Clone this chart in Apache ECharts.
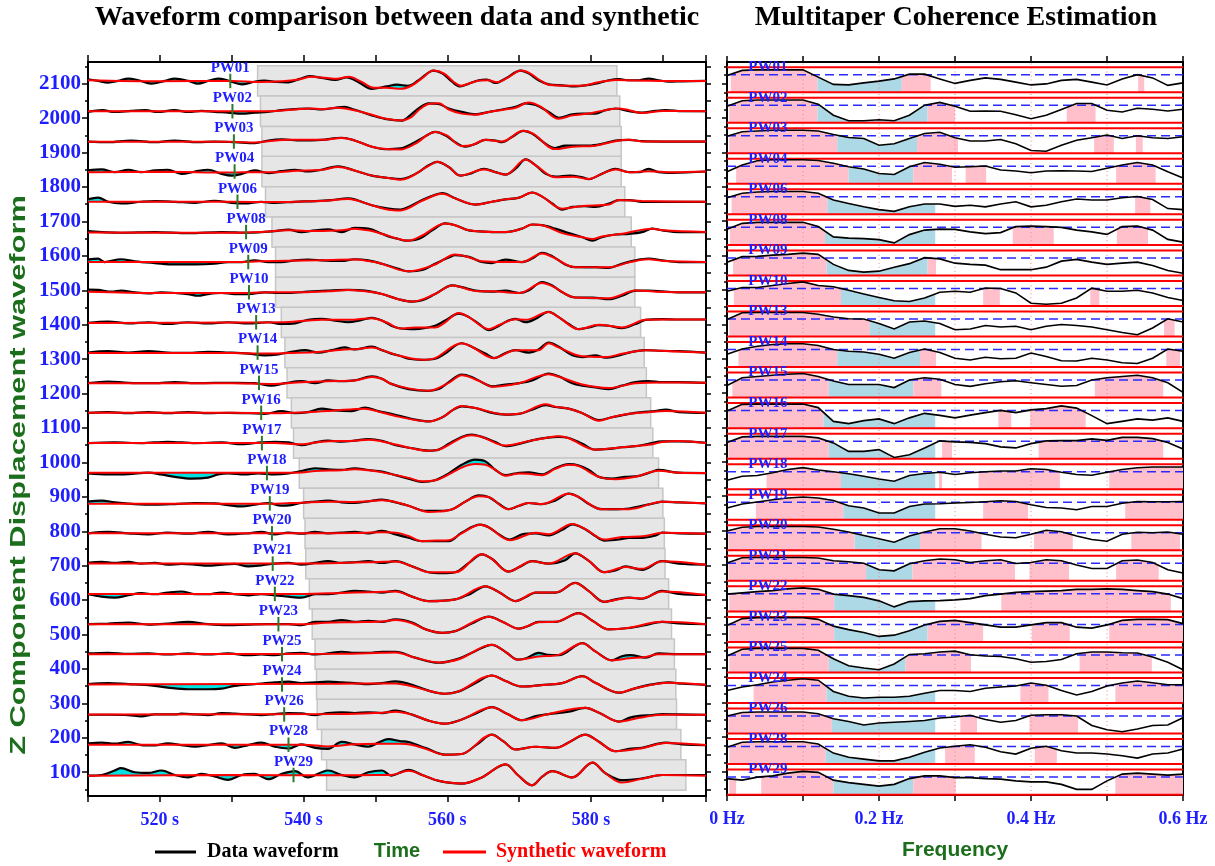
<!DOCTYPE html>
<html><head><meta charset="utf-8">
<script src="https://cdn.jsdelivr.net/npm/echarts@6/dist/echarts.min.js"></script>
<style>html,body{margin:0;padding:0;background:#fff}#c{width:1215px;height:866px}</style>
</head><body><div id="c"></div>
<script>
// ---------------- DATA ----------------
const stations = ['PW01','PW02','PW03','PW04','PW06','PW08','PW09','PW10','PW13','PW14','PW15','PW16','PW17','PW18','PW19','PW20','PW21','PW22','PW23','PW25','PW24','PW26','PW28','PW29'];
const baselines = [2108,2020,1932,1845,1757,1669,1582,1494,1407,1319,1231,1144,1056,969,881,794,706,618,530,443,355,268,180,92];
const pickTimes = [529.8,530.1,530.3,530.4,530.8,532.0,532.3,532.4,533.4,533.6,533.8,534.1,534.2,534.9,535.3,535.6,535.7,536.0,536.5,537.0,537.0,537.3,537.9,538.6];
const windowStarts = [533.6,534.0,534.2,534.2,534.7,535.6,536.1,536.1,536.9,537.4,537.7,538.3,538.6,539.4,540.0,540.2,540.3,540.8,541.2,541.6,541.8,541.9,542.5,543.2];
const windowLength = 50;
const yTickValues = [100,200,300,400,500,600,700,800,900,1000,1100,1200,1300,1400,1500,1600,1700,1800,1900,2000,2100];
const freqs = [0,0.02,0.04,0.06,0.08,0.1,0.12,0.14,0.16,0.18,0.2,0.22,0.24,0.26,0.28,0.3,0.32,0.34,0.36,0.38,0.4,0.42,0.44,0.46,0.48,0.5,0.52,0.54,0.56,0.58,0.6];
const freqGridLines = [0.1,0.2,0.3,0.4,0.5];
const cohThreshold = 0.7;

// waveforms: [time s, offset from baseline]
const d01=[[510,5],[511.4,0],[512.8,-5],[514.2,0],[515.6,7],[517,2],[518.8,-8],[520.7,0],[522.1,7],[524,0],[525.3,-8],[526.7,0],[528.1,7],[529.5,1],[531.4,-10],[533,-3],[534.5,1],[536.3,-3],[537.9,-4],[539.5,6],[540.8,14],[542.5,9],[544.4,3],[546,10],[547.6,-3],[549.5,-23],[551.5,-16],[553,-11],[554.5,-14],[556,2],[558.1,30],[559.3,22],[560.7,-3],[561.8,-16],[563,-8],[564.4,2],[565.5,4],[566.7,-6],[568.1,7],[570.2,30],[571.3,22],[572.7,2],[574.1,-10],[576,-13],[577.8,-16],[579.2,-13],[580.6,-8],[582.5,2],[583.9,5],[585.3,2],[586.7,2],[588,7],[589.4,2],[590.8,-2],[592.7,-1],[596,0]];
const s01=[[510,2],[520,-1],[530,0],[534,-3],[537,-1],[539.5,5],[541,12],[543,9],[544.6,6],[546.3,12],[548,-2],[549.8,-20],[551.5,-20],[553.5,-23],[555,-14],[556.5,8],[558.1,30],[559.5,22],[560.9,-3],[561.9,-14],[563.2,-6],[564.6,1],[565.7,2],[566.9,-4],[568.3,8],[570.3,30],[571.5,22],[572.9,2],[574.3,-12],[577,-14],[579,-13],[581,-4],[583.5,3],[586,1],[590,0],[596,0]];
const d02=[[510,-2],[512,3],[513.7,-2],[516,1],[518,3],[519.7,-2],[522,3],[524,-2],[525.8,1],[527.6,-2],[529.5,-4],[531.4,-7],[533.2,-4],[535,-2],[537,3],[538.8,6],[540.6,8],[542.5,5],[544.4,10],[545.7,13],[547,5],[549.5,-12],[551.3,-22],[553.7,-27],[555.1,-7],[556,8],[557.4,23],[558.8,21],[560.2,8],[562,-2],[563.9,-9],[565.8,-2],[567.6,5],[569.5,13],[570.9,23],[572.3,18],[574.1,-2],[575.5,-19],[577.4,-9],[578.8,-7],[580.6,-7],[582,3],[583.4,8],[585.3,0],[587.1,-4],[589,1],[590.4,3],[592.7,0],[596,0]];
const s02=[[510,0],[530,0],[535,0],[538.8,5],[541,8],[542.5,6],[544.6,10],[547,3],[549.5,-10],[551.5,-22],[553.5,-27],[555,-17],[556,3],[557.4,21],[558.8,23],[560.2,5],[562,-7],[563.9,-10],[565.8,-2],[568,5],[569.5,10],[571.3,25],[573,13],[575.5,-22],[577.4,-12],[579.5,-7],[581.5,1],[583.8,8],[585.3,3],[587.1,-5],[590,1],[596,0]];
const d03=[[510,0],[512.8,-2],[516,3],[519.3,-2],[522,3],[525.3,-2],[527.6,0],[530.4,-2],[533.2,-5],[535.1,3],[537,6],[539.7,3],[542.5,5],[545.3,11],[547.1,3],[549.5,-15],[551.3,-22],[553.5,-20],[555.5,-2],[556.9,15],[558.3,28],[559.7,18],[561.1,-2],[562.5,-15],[563.9,-7],[565.3,5],[566.7,3],[567.6,-2],[569,13],[570.6,31],[571.8,23],[573.7,-7],[575,-19],[576.4,-12],[577.8,-12],[579.7,-12],[581.5,-7],[583.4,3],[585.3,5],[587.1,1],[590,0],[596,0]];
const s03=[[510,-1],[530,-1],[533.2,-3],[535.1,1],[538,5],[542.5,5],[545.3,10],[547.1,3],[549.5,-15],[551.5,-22],[553.5,-23],[555.5,-7],[558.3,28],[560,17],[562,-13],[563.5,-10],[565.3,5],[567.6,0],[570.6,31],[572,22],[575,-22],[577.4,-15],[580.6,-12],[583.4,1],[585.3,5],[587.5,0],[596,0]];
const d04=[[510,3],[511.9,6],[513.7,-2],[515.6,5],[517.4,-2],[519.3,3],[521.1,5],[523,-7],[524.9,0],[526.7,5],[528.6,-7],[530,-12],[531.4,-7],[533.2,3],[535.1,-5],[536.9,1],[538.8,5],[540.6,0],[542.5,5],[544.8,15],[547.1,3],[549.5,-12],[551.8,-19],[553.5,-22],[554.6,-17],[556,-2],[557.4,18],[558.6,28],[560.2,13],[561.8,-12],[563.4,-5],[565.1,8],[566.7,-2],[568.1,-9],[569.5,8],[570.9,35],[572.3,18],[573.7,-7],[575.1,-15],[577,-12],[578.8,-17],[579.7,-22],[581.5,-7],[583.4,8],[585.3,-2],[586.7,-2],[588,8],[589.4,-2],[591.3,-4],[596,0]];
const s04=[[510,-2],[520,-1],[530,-3],[533,-2],[536,-2],[539,2],[542.5,5],[544.8,13],[547.1,3],[549.5,-12],[551.8,-19],[553.5,-24],[557.4,16],[558.6,28],[560.2,13],[561.8,-12],[565.1,6],[568.1,-9],[570.9,35],[572.3,18],[575.1,-17],[577.5,-15],[579.7,-22],[581.5,-7],[583.4,6],[585.3,-2],[588,1],[591.3,-2],[596,0]];
const d06=[[510,7],[511.4,12],[512.8,0],[514.6,-5],[517.4,0],[519.3,2],[522.1,0],[524.9,-3],[527.6,3],[530,-3],[531.8,-5],[534.1,0],[536,-3],[538.8,0],[541.6,2],[543.9,5],[546.2,10],[547.1,7],[549.5,-10],[551.8,-20],[553.5,-23],[554.6,-15],[556.5,5],[558.3,20],[559.3,25],[561.1,10],[563,-5],[563.9,-8],[566.2,0],[568.1,7],[570,12],[571.8,27],[573.2,15],[574.6,-5],[576,-23],[577.4,-15],[579.2,-13],[580.6,-15],[582.5,-5],[583.9,5],[585.3,5],[587.1,0],[590,0],[596,0]];
const s06=[[510,0],[530,0],[536,-1],[540,1],[543,3],[546.2,8],[549.5,-10],[551.8,-23],[553.5,-25],[556.5,3],[559.3,23],[561.1,10],[563.9,-8],[566.2,0],[568.1,7],[570,12],[571.8,27],[573.2,15],[576,-20],[578.8,-12],[582.5,-8],[583.9,5],[587.1,2],[596,0]];
const d08=[[510,3],[514.6,-2],[519.3,0],[524,-3],[528.6,0],[532.3,-2],[534.1,0],[536,3],[537.9,7],[539.7,0],[541.6,5],[543.4,8],[545.3,0],[547.1,12],[549,10],[550.9,-5],[552.2,-15],[553.2,-20],[554.2,-25],[555.5,-23],[556.5,-15],[557.9,5],[559.7,25],[561.1,20],[563,5],[564.4,2],[566.7,0],[568.1,0],[570.4,10],[571.8,22],[573.2,20],[575,10],[576.9,-3],[578.8,-15],[580.2,-25],[581.5,-15],[583.4,-7],[585.3,-5],[587.1,0],[588.5,10],[589.9,5],[592.2,0],[596,0]];
const s08=[[510,-1],[530,-2],[534,0],[537.9,5],[541.6,3],[545.3,5],[547.1,10],[549,5],[550.9,-5],[553.2,-20],[554.6,-25],[556.5,-10],[559.7,25],[561.1,20],[563,5],[566.7,0],[568.1,0],[570.4,10],[571.8,22],[573.2,20],[576,-3],[578.8,-15],[580.2,-20],[581.5,-13],[584.3,-5],[588.5,10],[590,5],[596,0]];
const d09=[[510,7],[511.4,10],[512.3,0],[514.6,8],[516.5,2],[519.3,-3],[522.1,-7],[524.9,-7],[527.6,-5],[529.5,0],[531.4,0],[533.2,5],[535.1,0],[536.9,0],[538.8,5],[540.6,7],[542.5,5],[545.3,3],[547.1,8],[549,5],[550.9,-5],[553.2,-20],[554.6,-27],[556.5,-23],[558.3,-5],[560.2,13],[561.1,20],[563,15],[564.8,0],[566.2,-3],[568.1,7],[570.4,0],[571.8,10],[573.2,27],[574.6,17],[576.4,-7],[577.8,-15],[580.6,-15],[582.5,-17],[584.3,-5],[586.2,5],[588,10],[589.9,5],[592.2,0],[596,0]];
const s09=[[510,0],[530,0],[534,2],[538,4],[542,5],[547.1,7],[549,3],[550.9,-5],[553.2,-22],[554.6,-27],[558.3,-7],[561.1,22],[563,14],[564.8,2],[568.1,0],[570.4,0],[573.2,25],[574.6,15],[577.8,-15],[582.5,-15],[585.5,0],[588,8],[590,3],[596,0]];
const d10=[[510,8],[511.4,7],[513.3,2],[514.6,5],[516.5,0],[518.4,-3],[520.2,0],[522.1,-2],[523.9,-5],[525.3,-10],[526.7,-5],[528.6,-2],[530.4,-5],[532.3,-5],[534.6,0],[536.5,-2],[537.9,-2],[540.6,2],[543.4,5],[546.2,7],[548.5,5],[550.9,-5],[553.2,-20],[555.1,-27],[556.5,-23],[558.3,-5],[560.7,20],[562,15],[563.9,5],[566.2,2],[568.1,5],[570,-2],[571.3,5],[573.2,30],[574.6,20],[576,0],[577.8,-15],[580.2,-15],[582.5,-20],[584.3,-10],[586.2,5],[588,5],[589.9,3],[592.2,0],[596,0]];
const s10=[[510,2],[520,-2],[530,-2],[536,0],[540,0],[543.4,3],[546.2,7],[548.5,3],[550.9,-5],[553.2,-20],[555.1,-27],[558.3,-5],[560.7,20],[563.9,4],[566.2,3],[570,-2],[573.2,27],[574.6,18],[577.8,-15],[582.5,-17],[586.2,5],[589,2],[596,0]];
const d13=[[510,-2],[512.8,2],[515.6,-3],[518.4,0],[521.1,-5],[523.9,0],[526.7,-3],[529.5,0],[532.3,-3],[535.1,0],[536.9,-5],[538.8,-3],[540.6,7],[542.5,10],[544.4,5],[546.2,0],[548.1,7],[549.5,13],[550.9,5],[552.2,-10],[553.5,-18],[555.5,-20],[558.3,-10],[559.7,5],[561.6,25],[563,15],[564.4,-5],[565.8,-23],[567.2,-10],[568.5,5],[569.5,10],[570.9,0],[572.3,10],[574.1,30],[575.5,15],[576.9,-5],[578.3,-20],[579.7,-15],[581.1,-8],[582.5,-10],[584.3,-17],[586.2,-5],[587.6,7],[590,9],[592.2,8],[596,8]];
const s13=[[510,-2],[530,-1],[536.9,0],[540.6,5],[542.5,7],[546.2,7],[549.5,12],[551.5,0],[553.5,-18],[555.5,-15],[558.3,-15],[559.7,0],[561.6,27],[563,15],[565.8,-20],[567.2,-8],[569.5,9],[570.9,7],[574.1,30],[575.5,15],[578.3,-20],[581.1,-7],[584.3,-15],[587.6,7],[590,8],[596,8]];
const d14=[[510,0],[512.8,4],[515.6,0],[518.4,4],[521.1,0],[523.9,-1],[526.7,2],[529.5,0],[532.3,-3],[534.6,-8],[536.5,-5],[538.3,2],[540.2,7],[542,0],[543.9,7],[545.7,15],[547.1,9],[549.5,17],[550.9,7],[552.2,-3],[553.5,-10],[554.6,-18],[556.5,-21],[558.3,-18],[559.7,-3],[562,27],[563.4,17],[565.3,-3],[566.5,-16],[568.1,-1],[569.5,7],[571.3,0],[572.7,9],[574.1,29],[575.5,17],[577.4,-8],[578.8,-13],[580.6,-8],[582,-15],[583.9,-8],[585.7,2],[587.6,7],[589.9,5],[592.2,4],[596,0]];
const s14=[[510,-1],[530,-1],[534.6,-3],[538,-1],[542,2],[545.7,9],[547.5,10],[549.5,15],[551.5,3],[553.5,-10],[556.5,-21],[558.3,-16],[562,27],[563.4,17],[566.5,-16],[569.5,7],[572.7,7],[574.1,27],[575.5,15],[578.8,-11],[582,-13],[584.5,-3],[587.6,7],[592,3],[596,0]];
const d15=[[510,-1],[512.8,4],[515.6,0],[519.3,-1],[522.1,2],[524.9,-1],[527.6,0],[530.4,0],[533.2,-1],[535.5,-8],[537.4,-1],[539.7,5],[541.6,-1],[543.4,7],[545.3,5],[547.1,7],[549.5,19],[550.9,12],[552.2,-3],[554.6,-18],[557.4,-23],[558.8,-18],[560.2,2],[562,24],[563.4,17],[564.8,2],[566.2,-10],[568.1,-5],[570,-1],[571.8,7],[574.1,27],[575.5,19],[577.4,-1],[578.8,-8],[580.6,-13],[582.5,-18],[584.3,-8],[586.2,2],[588,5],[589.9,2],[592.2,2],[596,0]];
const s15=[[510,-1],[530,-1],[535.5,-3],[539.7,2],[543.4,5],[547.1,7],[549.5,17],[550.9,12],[552.2,-3],[554.6,-16],[557.4,-23],[560.2,0],[562,22],[564.8,2],[566.2,-11],[570,-1],[574.1,25],[575.5,18],[578.8,-5],[582.5,-15],[586.2,-1],[589.9,1],[596,0]];
const d16=[[510,0],[512.8,2],[515.6,-1],[518.4,2],[521.1,-1],[523.9,2],[526.7,-1],[529.5,0],[532.3,-1],[534.6,-3],[536.9,5],[538.8,-1],[540.6,2],[542.5,12],[544.4,7],[546.7,5],[548.5,15],[550.4,5],[552.2,-3],[553.2,-8],[555.1,-18],[557.4,-25],[559.3,-13],[560.7,7],[562,19],[563.9,14],[565.8,2],[568.1,-5],[570,-3],[571.8,9],[573.7,22],[575,17],[576.9,12],[578.8,-1],[581.1,-21],[582.9,-13],[585.3,-3],[587.1,2],[588.9,5],[590.4,9],[592.2,2],[596,0]];
const s16=[[510,0],[530,0],[536,-1],[540.6,2],[544,6],[548.5,12],[550.4,4],[553.2,-11],[557.4,-25],[559.3,-13],[562,20],[563.9,14],[568.1,-5],[570,-3],[573.7,25],[575,18],[576.9,12],[578.8,-1],[581.1,-23],[582.9,-13],[585.3,-3],[588,2],[590.4,5],[596,0]];
const d17=[[510,0],[513.7,2],[517.4,0],[521.1,4],[524.9,0],[528.6,2],[531.4,-3],[534.1,2],[536,4],[537.9,2],[539.7,-6],[541.6,2],[543.4,7],[545.3,4],[547.1,7],[549,12],[550.9,7],[553,-7],[555.1,-15],[557.4,-22],[558.8,-19],[560.2,-2],[562,18],[563.4,25],[564.8,18],[566.7,3],[568.1,-9],[570,-2],[571.8,8],[573.7,15],[575.5,18],[576.9,15],[578.8,-2],[580.6,-19],[582.5,-17],[584.3,-12],[586.2,-9],[588,-2],[589.9,5],[592.2,5],[596,1]];
const s17=[[510,0],[536,0],[539.7,-3],[542.5,4],[547.1,7],[549,10],[550.9,5],[553,-5],[557.4,-22],[558.8,-19],[562,16],[563.4,23],[564.8,18],[568.1,-7],[571.8,8],[573.7,15],[575.5,20],[576.9,14],[580.6,-19],[584.3,-12],[588,-5],[589.9,3],[592.2,6],[596,0]];
const d18=[[510,-1],[512.8,-4],[515.6,-3],[518.4,1],[520.2,-4],[522.1,-11],[524.4,-16],[526.7,-13],[528.1,-4],[529.5,-1],[531.8,-4],[533.7,-1],[536,-4],[537.9,-1],[539.7,6],[541.6,14],[543.4,11],[545.3,9],[547.1,14],[549,9],[550.9,4],[552.8,-6],[554.6,-16],[556.5,-26],[558.3,-21],[560.2,-1],[562,24],[563.9,39],[565.3,34],[566.7,9],[568.1,-6],[570,1],[571.3,2],[573.2,-4],[575,14],[576.9,26],[578.3,22],[579.7,9],[581.1,-11],[582.9,-16],[584.8,-11],[586.7,-8],[588.5,4],[589.4,9],[592.2,1],[596,0]];
const s18=[[510,1],[530,1],[536,1],[539.7,2],[541.6,6],[545.3,8],[547.1,11],[549,8],[551,2],[554.6,-14],[556.5,-24],[558.3,-21],[560.2,-4],[562,16],[563.9,26],[565.3,24],[566.7,9],[568.1,-8],[570,-1],[571.3,-2],[573.2,-6],[575,12],[576.9,24],[578.3,20],[581.1,-11],[583.4,-18],[586.2,-11],[589.4,7],[592.2,1],[596,0]];
const d19=[[510,5],[511.9,8],[513.7,3],[516.5,-2],[519.3,-4],[522.1,-2],[524.9,1],[527.6,0],[529.5,-5],[531.4,-9],[533.2,-4],[535.1,1],[536.9,-7],[538.3,-5],[539.7,1],[541.6,5],[543.4,8],[545.3,3],[547.1,1],[549,6],[550.9,11],[552.8,3],[554.6,-7],[557,-22],[558.8,-22],[560.7,-17],[562.5,5],[564.4,23],[565.8,18],[567.2,-2],[568.5,-17],[570,-7],[571.3,1],[573.2,-2],[575,8],[576.9,28],[578.3,18],[579.7,-2],[581.5,-17],[583.4,-17],[585.3,-15],[587.1,-7],[589,1],[589.9,5],[592.2,3],[596,0]];
const s19=[[510,-1],[530,-1],[536,-1],[539.7,2],[543.4,5],[547.1,4],[549,6],[550.9,9],[552.8,4],[554.6,-7],[557.4,-25],[558.8,-24],[560.7,-17],[564.4,21],[565.8,18],[568.5,-17],[571.3,1],[573.2,-2],[576.9,28],[578.3,18],[581.5,-17],[585.3,-17],[589.9,5],[592.2,3],[596,0]];
const d20=[[510,0],[512.8,4],[515.6,0],[518.4,-3],[521.1,2],[523.9,-1],[526.7,4],[529.5,-3],[532.3,0],[534.1,4],[536,-3],[537.9,2],[539.7,-1],[541.6,4],[543.4,0],[545.3,2],[547.1,4],[549,0],[550.9,7],[552.8,-3],[554.6,-13],[556.5,-23],[558.3,-23],[560.2,-23],[562,2],[564.6,25],[565.8,17],[567.2,-3],[568.7,-18],[570.4,-3],[572.3,0],[574.1,-6],[576,10],[577.4,26],[579.2,12],[580.6,-8],[581.9,-21],[583.9,-18],[585.3,-13],[587.1,-13],[589,-6],[589.9,2],[592.2,0],[596,-1]];
const s20=[[510,0],[540,0],[547,1],[550.9,3],[552.8,2],[554.6,-8],[556.5,-23],[558.5,-21],[560.2,-20],[562,0],[564.6,25],[565.8,17],[568.7,-20],[572.3,2],[574.1,-3],[577.4,27],[579.2,12],[581.9,-18],[584.3,-11],[587.5,-8],[589.9,2],[596,-1]];
const d21=[[510,2],[511.9,5],[513.7,2],[515.6,5],[517.4,0],[519.3,2],[521.1,-3],[523,-1],[524.9,-3],[526.7,-6],[528.6,-3],[530.4,-1],[532.3,-8],[534.1,-5],[536,0],[537.9,2],[539.7,-3],[541.6,2],[543.4,7],[545.3,2],[547.1,4],[549,7],[550.9,2],[552.8,7],[555.1,-8],[557.4,-25],[559.3,-28],[561.1,-25],[563,2],[564.8,27],[566.2,14],[568.5,-23],[570.2,-8],[571.8,7],[574.1,0],[576.4,10],[577.8,30],[579.7,8],[581.8,-25],[583.4,-20],[584.8,-8],[587.1,-18],[589.9,7],[592.2,0],[596,-3]];
const s21=[[510,0],[540,0],[545,2],[549,4],[552.8,6],[555.1,-8],[557.4,-25],[561.1,-25],[564.8,27],[566.2,14],[568.5,-23],[571.8,7],[574.1,0],[577.8,30],[579.7,8],[581.8,-25],[584.8,-10],[587.1,-15],[589.9,7],[596,-3]];
const d22=[[510,-1],[511.9,-8],[513.7,-11],[515.6,-4],[517.4,2],[519.3,-1],[521.1,4],[523,7],[524.9,-1],[526.7,-1],[528.6,4],[530.4,-1],[532.3,-4],[534.1,-1],[536,-4],[537.9,-8],[539.7,-11],[541.6,-1],[543.4,-1],[545.3,4],[547.1,9],[549,7],[550.9,4],[552.8,9],[555.1,-8],[557.4,-21],[561.1,-16],[563.2,0],[565.3,22],[567.2,5],[569.5,-21],[571,-8],[572.3,4],[575.1,4],[577.8,32],[579.7,8],[581.8,-23],[583.4,-16],[585.3,-11],[587.1,-14],[589.9,9],[592.2,0],[596,-3]];
const s22=[[510,0],[540,0],[545.3,3],[549,5],[552.8,7],[555.1,-8],[557.4,-21],[561.1,-16],[565.3,22],[567.2,5],[569.5,-21],[572.3,4],[575.1,4],[577.8,32],[579.7,8],[581.8,-23],[585.3,-11],[587.1,-13],[589.9,7],[596,-3]];
const d23=[[510,0],[512.8,2],[515.6,5],[518.4,-1],[521.1,2],[523.9,7],[526.7,0],[529.5,-3],[532.3,-1],[535.1,0],[537.9,0],[539.7,-3],[541.6,7],[543.4,7],[545.3,12],[547.1,7],[549,10],[550.9,7],[552.8,14],[555.1,5],[557,-15],[559.3,-25],[561.1,-20],[563.4,2],[565.8,22],[567.6,8],[570,-13],[571.3,-5],[572.7,7],[575.1,7],[578.3,32],[580.2,10],[582.5,-15],[585.3,-11],[587.5,-3],[589.9,7],[592.2,2],[596,0]];
const s23=[[510,0],[540,0],[543,4],[547.1,6],[550.9,8],[552.8,12],[555.1,3],[557,-15],[559.3,-25],[561.1,-20],[565.8,22],[567.6,8],[570,-13],[572.7,6],[575.1,7],[578.3,32],[580.2,10],[582.5,-15],[585.3,-10],[589.9,7],[596,0]];
const d25=[[510,2],[512.8,4],[515.6,1],[518.4,2],[521.1,-1],[523.9,2],[526.7,-1],[529.5,2],[532.3,-3],[534.1,-1],[536,-3],[537.9,2],[539.7,4],[541.6,-1],[543.4,2],[545.3,7],[547.1,4],[549,4],[550.9,7],[552.8,7],[555.5,-10],[558.8,-25],[561.6,-13],[563.8,8],[566.2,27],[568.2,5],[569.8,-16],[571,-12],[572.7,4],[574,-2],[575.5,-3],[578.8,32],[580.6,8],[582.9,-18],[584.3,-6],[585.5,-3],[587.6,-10],[589.4,2],[592.2,0],[596,0]];
const s25=[[510,0],[545,1],[550.9,4],[552.8,5],[555.5,-10],[558.8,-24],[561.6,-15],[566.2,27],[568.2,5],[569.8,-16],[572.7,-7],[575.5,-2],[578.8,32],[580.6,8],[582.9,-18],[585.3,-12],[587.6,-8],[589.4,0],[596,0]];
const d24=[[510,1],[512.8,4],[515.6,1],[518.4,-2],[521.1,-9],[523.9,-14],[526.7,-14],[528.6,-12],[530.4,-4],[533.2,1],[536,6],[537.9,8],[539.7,4],[541.6,6],[543.4,8],[545.3,6],[547.1,4],[549,1],[550.9,4],[552.8,9],[554.6,2],[557.4,-18],[559.7,-27],[561.6,-20],[564,5],[566.2,26],[568.1,10],[570.4,-6],[573,-2],[576,4],[578.8,24],[580.6,5],[583.9,-24],[586,-12],[588.5,0],[590.8,6],[592.7,2],[596,-1]];
const s24=[[510,0],[545,2],[550.9,3],[552.8,3],[554.6,-3],[557.4,-18],[559.7,-27],[561.6,-20],[566.2,26],[568.1,10],[570.4,-6],[573,-2],[576,4],[578.8,24],[580.6,5],[583.9,-24],[586,-12],[590.8,5],[596,-1]];
const d26=[[510,-1],[512.8,-1],[515.6,-2],[517.4,-6],[519.3,0],[522.1,0],[523,2],[524.9,0],[526.7,-2],[528.6,4],[530.4,2],[532.3,0],[534.1,-2],[536,1],[537.9,4],[539.7,3],[541.6,-2],[543.4,4],[545.3,6],[547.1,4],[549,6],[550.9,4],[552.8,11],[555,0],[557.4,-18],[559.7,-27],[562,-15],[564.2,5],[566.2,21],[568.3,2],[570.4,-17],[572.3,-5],[574.1,1],[576.9,8],[579.2,19],[581.1,5],[583.9,-21],[585.3,-10],[586.7,-4],[588.5,-2],[589.9,1],[592.2,0],[596,-1]];
const s26=[[510,0],[545,1],[550.9,5],[552.8,8],[555,0],[557.4,-18],[559.7,-27],[562,-15],[566.2,21],[568.3,2],[570.4,-17],[574.1,1],[579.2,19],[581.1,5],[583.9,-21],[586.7,-10],[589.9,-1],[596,-1]];
const d28=[[510,4],[511.9,6],[513.7,3],[515.6,8],[517.4,-1],[519.3,-2],[521.1,4],[523,-1],[524.9,-6],[526.7,-1],[528.6,4],[530.4,-9],[532.3,-1],[534.1,6],[536,-6],[537.9,-11],[539.7,1],[541.6,-9],[543.4,-12],[545.3,8],[547.1,1],[549,-6],[550.4,6],[551.8,16],[553.5,10],[554.6,8],[557,-10],[559.7,-29],[562,-27],[564.2,2],[566.2,29],[567.8,10],[569.5,-14],[572.3,-6],[575.1,-9],[577,8],[579.2,29],[581,10],[583.4,-19],[585.3,-12],[587.1,-9],[590.4,6],[592.7,1],[596,-1]];
const s28=[[510,0],[540,0],[543.4,-5],[547.1,1],[550.4,3],[553.5,3],[555,0],[557,-12],[559.7,-29],[562,-27],[566.2,29],[567.8,10],[569.5,-14],[572.3,-6],[575.1,-9],[579.2,29],[581,10],[583.4,-19],[587.1,-10],[590.4,5],[596,-1]];
const d29=[[510,-2],[511.9,0],[513.7,13],[514.6,20],[516.5,8],[518.4,6],[520.2,13],[522.1,0],[523.9,-7],[525.8,3],[527.6,-4],[529.5,-14],[531.4,0],[533.2,3],[535.1,-12],[536.9,3],[538.8,11],[540.6,-7],[542.5,8],[543.4,13],[545.3,0],[547.1,-7],[549,8],[550.9,13],[552.2,-2],[553.2,5],[554.6,15],[556.5,0],[558.8,-17],[562,-25],[564.8,-7],[568.1,31],[569.8,0],[571.8,-30],[573.2,-5],[574.6,11],[577.4,-7],[580.2,36],[582,5],[584.3,-15],[587.1,-10],[589.9,0],[596,0]];
const s29=[[510,-2],[530,0],[545,-1],[550,0],[552.2,0],[554.6,12],[556.5,0],[558.8,-17],[562,-25],[564.8,-7],[568.1,31],[569.8,0],[571.8,-30],[573.2,-5],[574.6,11],[577.4,-7],[580.2,36],[582,5],[584.3,-22],[587.1,-11],[589.9,0],[596,-2]];

// multitaper coherence (values at freqs) and shaded bands [f0, f1, p=pink/b=blue]
const coh01=[0.67,0.87,0.89,0.89,0.89,0.89,0.60,0.31,0.29,0.37,0.44,0.53,0.72,0.72,0.53,0.35,0.47,0.57,0.51,0.40,0.29,0.33,0.47,0.51,0.40,0.29,0.53,0.70,0.57,0.27,0.37];
const coh02=[0.66,0.88,0.91,0.91,0.91,0.91,0.74,0.30,0.08,0.08,0.12,0.08,0.30,0.70,0.81,0.66,0.46,0.47,0.46,0.32,0.16,0.30,0.53,0.77,0.77,0.50,0.43,0.58,0.54,0.47,0.54];
const coh03=[0.68,0.86,0.89,0.92,0.92,0.92,0.89,0.75,0.63,0.59,0.32,0.38,0.59,0.79,0.84,0.62,0.49,0.49,0.55,0.38,0.11,0.08,0.32,0.52,0.62,0.73,0.59,0.70,0.62,0.59,0.66];
const coh04=[0.48,0.75,0.92,0.96,0.96,0.96,0.93,0.82,0.68,0.59,0.41,0.37,0.68,0.85,0.78,0.66,0.68,0.71,0.55,0.51,0.44,0.51,0.52,0.51,0.49,0.62,0.75,0.85,0.75,0.48,0.23];
const coh06=[0.66,0.84,0.89,0.91,0.91,0.91,0.84,0.57,0.43,0.30,0.19,0.12,0.30,0.41,0.41,0.32,0.36,0.30,0.41,0.50,0.30,0.36,0.50,0.61,0.57,0.57,0.66,0.71,0.59,0.23,0.19];
const coh08=[0.62,0.86,0.90,0.90,0.90,0.90,0.73,0.32,0.27,0.25,0.21,0.08,0.41,0.59,0.63,0.62,0.52,0.45,0.49,0.73,0.75,0.73,0.70,0.59,0.52,0.42,0.73,0.75,0.59,0.22,0.11];
const coh09=[0.53,0.75,0.76,0.81,0.84,0.89,0.84,0.44,0.20,0.13,0.17,0.33,0.47,0.71,0.66,0.49,0.44,0.41,0.23,0.23,0.23,0.33,0.57,0.64,0.53,0.44,0.49,0.53,0.40,0.20,0.09];
const coh10=[0.59,0.74,0.74,0.82,0.90,0.96,0.82,0.77,0.63,0.48,0.34,0.21,0.18,0.32,0.55,0.59,0.55,0.72,0.70,0.52,0.11,0.07,0.11,0.32,0.71,0.59,0.59,0.63,0.52,0.34,0.22];
const coh13=[0.68,0.95,0.96,0.96,0.96,0.96,0.89,0.78,0.71,0.70,0.52,0.30,0.58,0.62,0.52,0.27,0.30,0.44,0.38,0.41,0.27,0.41,0.48,0.44,0.38,0.27,0.16,0.07,0.34,0.71,0.58];
const coh14=[0.51,0.72,0.83,0.90,0.93,0.93,0.86,0.70,0.63,0.60,0.51,0.35,0.58,0.72,0.58,0.35,0.28,0.39,0.33,0.35,0.56,0.42,0.25,0.24,0.35,0.28,0.17,0.14,0.35,0.72,0.63];
const coh15=[0.48,0.79,0.84,0.89,0.93,0.96,0.84,0.66,0.52,0.52,0.52,0.40,0.70,0.79,0.73,0.52,0.45,0.55,0.63,0.67,0.59,0.52,0.45,0.48,0.70,0.79,0.84,0.89,0.79,0.59,0.21];
const coh16=[0.68,0.95,0.96,0.96,0.96,0.96,0.82,0.27,0.18,0.30,0.37,0.18,0.41,0.59,0.51,0.41,0.52,0.62,0.71,0.62,0.73,0.78,0.89,0.80,0.50,0.18,0.27,0.37,0.32,0.41,0.27];
const coh17=[0.65,0.87,0.89,0.89,0.89,0.89,0.83,0.63,0.29,0.29,0.36,0.05,0.16,0.43,0.71,0.67,0.65,0.60,0.47,0.43,0.60,0.71,0.72,0.72,0.79,0.73,0.85,0.85,0.80,0.65,0.39];
const coh18=[0.36,0.52,0.55,0.66,0.79,0.86,0.77,0.70,0.62,0.52,0.41,0.32,0.55,0.63,0.68,0.59,0.66,0.70,0.73,0.73,0.82,0.79,0.68,0.59,0.56,0.68,0.79,0.86,0.89,0.89,0.89];
const coh19=[0.47,0.63,0.71,0.80,0.87,0.91,0.87,0.77,0.56,0.47,0.27,0.27,0.53,0.63,0.64,0.67,0.69,0.72,0.76,0.73,0.60,0.49,0.47,0.40,0.53,0.53,0.66,0.73,0.72,0.72,0.73];
const coh20=[0.77,0.92,0.95,0.95,0.95,0.95,0.93,0.84,0.73,0.59,0.46,0.32,0.57,0.73,0.86,0.86,0.77,0.64,0.53,0.50,0.64,0.80,0.74,0.57,0.43,0.36,0.64,0.72,0.70,0.73,0.64];
const coh21=[0.71,0.92,0.93,0.93,0.93,0.93,0.91,0.80,0.76,0.70,0.44,0.40,0.68,0.80,0.87,0.84,0.73,0.80,0.84,0.69,0.73,0.84,0.80,0.63,0.49,0.49,0.80,0.83,0.73,0.44,0.31];
const coh22=[0.69,0.74,0.79,0.83,0.90,0.94,0.88,0.69,0.63,0.56,0.42,0.18,0.39,0.42,0.43,0.46,0.51,0.63,0.69,0.76,0.79,0.81,0.83,0.88,0.88,0.90,0.88,0.83,0.79,0.69,0.51];
const coh23=[0.66,0.93,0.97,0.97,0.97,0.97,0.90,0.63,0.49,0.38,0.22,0.27,0.45,0.68,0.82,0.86,0.77,0.68,0.59,0.59,0.68,0.77,0.77,0.59,0.55,0.68,0.86,0.90,0.90,0.89,0.73];
const coh25=[0.66,0.93,0.96,0.96,0.96,0.96,0.89,0.55,0.27,0.18,0.11,0.34,0.72,0.75,0.82,0.85,0.71,0.66,0.64,0.55,0.41,0.44,0.52,0.75,0.82,0.82,0.79,0.78,0.62,0.41,0.11];
const coh24=[0.50,0.64,0.73,0.84,0.91,0.97,0.91,0.46,0.27,0.20,0.23,0.23,0.27,0.39,0.50,0.50,0.46,0.59,0.64,0.68,0.80,0.71,0.50,0.32,0.46,0.68,0.80,0.88,0.81,0.73,0.73];
const coh26=[0.70,0.84,0.86,0.86,0.86,0.86,0.79,0.59,0.48,0.34,0.42,0.45,0.48,0.52,0.62,0.66,0.73,0.56,0.45,0.52,0.73,0.75,0.75,0.70,0.32,0.15,0.07,0.18,0.32,0.34,0.63];
const coh28=[0.67,0.87,0.89,0.89,0.89,0.89,0.80,0.44,0.27,0.20,0.13,0.13,0.27,0.47,0.64,0.71,0.77,0.67,0.49,0.40,0.63,0.71,0.53,0.44,0.44,0.40,0.33,0.24,0.40,0.44,0.60];
const coh29=[0.64,0.58,0.70,0.75,0.86,0.93,0.89,0.58,0.48,0.41,0.34,0.41,0.64,0.75,0.75,0.68,0.68,0.64,0.62,0.55,0.51,0.51,0.41,0.21,0.21,0.55,0.82,0.86,0.82,0.78,0.82];

const seg01=[[0.005,0.119,'p'],[0.119,0.230,'b'],[0.230,0.268,'p'],[0.541,0.549,'p']];
const seg02=[[0.003,0.119,'p'],[0.119,0.264,'b'],[0.264,0.300,'p'],[0.447,0.485,'p']];
const seg03=[[0.003,0.145,'p'],[0.145,0.250,'b'],[0.250,0.304,'p'],[0.483,0.509,'p'],[0.538,0.547,'p']];
const seg04=[[0.012,0.160,'p'],[0.160,0.245,'b'],[0.245,0.296,'p'],[0.314,0.341,'p'],[0.512,0.564,'p']];
const seg06=[[0.006,0.132,'p'],[0.132,0.274,'b'],[0.537,0.557,'p']];
const seg08=[[0.004,0.129,'p'],[0.129,0.274,'b'],[0.376,0.430,'p'],[0.513,0.554,'p']];
const seg09=[[0.008,0.131,'p'],[0.131,0.264,'b'],[0.264,0.275,'p']];
const seg10=[[0.009,0.150,'p'],[0.150,0.274,'b'],[0.337,0.359,'p'],[0.478,0.490,'p']];
const seg13=[[0.003,0.188,'p'],[0.188,0.274,'b'],[0.575,0.589,'p']];
const seg14=[[0.015,0.145,'p'],[0.145,0.254,'b'],[0.254,0.275,'p'],[0.578,0.596,'p']];
const seg15=[[0.007,0.134,'p'],[0.134,0.245,'b'],[0.245,0.282,'p'],[0.484,0.574,'p']];
const seg16=[[0.002,0.127,'p'],[0.127,0.274,'b'],[0.357,0.374,'p'],[0.399,0.472,'p']];
const seg17=[[0.002,0.134,'p'],[0.134,0.274,'b'],[0.283,0.296,'p'],[0.410,0.574,'p']];
const seg18=[[0.052,0.150,'p'],[0.150,0.274,'b'],[0.279,0.283,'p'],[0.331,0.438,'p'],[0.503,0.600,'p']];
const seg19=[[0.038,0.153,'p'],[0.153,0.274,'b'],[0.337,0.396,'p'],[0.524,0.600,'p']];
const seg20=[[0.002,0.168,'p'],[0.168,0.254,'b'],[0.254,0.335,'p'],[0.404,0.455,'p'],[0.532,0.596,'p']];
const seg21=[[0.002,0.183,'p'],[0.183,0.244,'b'],[0.244,0.379,'p'],[0.398,0.450,'p'],[0.512,0.568,'p']];
const seg22=[[0.003,0.141,'p'],[0.141,0.274,'b'],[0.361,0.584,'p']];
const seg23=[[0.003,0.141,'p'],[0.141,0.264,'b'],[0.264,0.337,'p'],[0.401,0.451,'p'],[0.503,0.600,'p']];
const seg25=[[0.003,0.134,'p'],[0.134,0.235,'b'],[0.235,0.321,'p'],[0.464,0.559,'p']];
const seg24=[[0.035,0.131,'p'],[0.131,0.274,'b'],[0.386,0.423,'p'],[0.511,0.600,'p']];
const seg26=[[0.002,0.138,'p'],[0.138,0.274,'b'],[0.307,0.329,'p'],[0.398,0.462,'p']];
const seg28=[[0.003,0.130,'p'],[0.130,0.274,'b'],[0.287,0.326,'p'],[0.405,0.434,'p']];
const seg29=[[0.003,0.012,'p'],[0.045,0.140,'p'],[0.140,0.245,'b'],[0.245,0.301,'p'],[0.511,0.600,'p']];

const dataWaves=[d01,d02,d03,d04,d06,d08,d09,d10,d13,d14,d15,d16,d17,d18,d19,d20,d21,d22,d23,d25,d24,d26,d28,d29];
const synWaves=[s01,s02,s03,s04,s06,s08,s09,s10,s13,s14,s15,s16,s17,s18,s19,s20,s21,s22,s23,s25,s24,s26,s28,s29];
const cohRows=[coh01,coh02,coh03,coh04,coh06,coh08,coh09,coh10,coh13,coh14,coh15,coh16,coh17,coh18,coh19,coh20,coh21,coh22,coh23,coh25,coh24,coh26,coh28,coh29];
const segRows=[seg01,seg02,seg03,seg04,seg06,seg08,seg09,seg10,seg13,seg14,seg15,seg16,seg17,seg18,seg19,seg20,seg21,seg22,seg23,seg25,seg24,seg26,seg28,seg29];

// ---------------- STYLE / LAYOUT ----------------
const BLUE='#1e1eff', GREEN='#1b6e1b';
const SERIF='"Liberation Serif","Times New Roman",serif';
const SANS='"Liberation Sans",Arial,sans-serif';
const SMOOTH=0.35;
const Y_MIN=31, Y_MAX=2163;
const HALF_WIN=44, PICK_HALF=21, LABEL_OFF=38;
const ROW_PAD=0.012, ROW_SCALE=0.82;
const nRows = stations.length;

const minorLeft=[], ticksRight=[], minorRight=[];
for (let v=50; v<=2150; v+=50){ if (v%100!==0) minorLeft.push(v); ticksRight.push(v); }
for (let v=50; v<=2150; v+=25){ if (v%100!==0) minorRight.push(v); }

function renderWindow(params, api){
  const t=api.value(0), b=api.value(1);
  const p0=api.coord([t, b+HALF_WIN]), p1=api.coord([t+windowLength, b-HALF_WIN]);
  return {type:'rect', shape:{x:p0[0], y:p0[1], width:p1[0]-p0[0], height:p1[1]-p0[1]},
    style:{fill:'#e6e6e6', stroke:'#c6c6c6', lineWidth:1.5}};
}
function renderFill(params, api){
  const i=params.dataIndex, b=baselines[i];
  const fwd=dataWaves[i].map(p=>api.coord([p[0], b+p[1]]));
  const back=synWaves[i].slice().reverse().map(p=>api.coord([p[0], b+p[1]]));
  return {type:'polygon', shape:{points:fwd.concat(back), smooth:SMOOTH}, style:{fill:'#00e2e2'}};
}
function renderPick(params, api){
  const i=params.dataIndex, t=api.value(0), b=api.value(1);
  const a=api.coord([t,b+PICK_HALF]), c=api.coord([t,b-PICK_HALF]), l=api.coord([t,b+LABEL_OFF]);
  return {type:'group', children:[
    {type:'line', shape:{x1:a[0],y1:a[1],x2:c[0],y2:c[1]}, style:{stroke:'#2a7a2a', lineWidth:2}},
    {type:'text', style:{text:stations[i], x:l[0], y:l[1], align:'center', verticalAlign:'middle', font:'bold 15px '+SERIF, fill:BLUE}}
  ]};
}
function cohAt(c, f){
  for (let k=0; k<freqs.length-1; k++){
    if (f <= freqs[k+1]+1e-9){
      const t=Math.max(0, Math.min(1,(f-freqs[k])/(freqs[k+1]-freqs[k])));
      return c[k]+(c[k+1]-c[k])*t;
    }
  }
  return c[c.length-1];
}
function renderCoh(params, api){
  const i=params.dataIndex, base=api.value(1);
  const Y=c=>base+ROW_PAD+c*ROW_SCALE;
  const P=(f,c)=>api.coord([f, Y(c)]);
  const coh=cohRows[i];
  const fMax=freqs[freqs.length-1];
  const kids=[];
  segRows[i].forEach(([f0,f1,kind])=>{
    const pts=[P(f0,0), P(f0,cohAt(coh,f0))];
    freqs.forEach((f,k)=>{ if (f>f0 && f<f1) pts.push(P(f,coh[k])); });
    pts.push(P(f1,cohAt(coh,f1)), P(f1,0));
    kids.push({type:'polygon', shape:{points:pts}, style:{fill: kind==='p' ? '#ffc0cb' : '#add8e6'}});
  });
  freqGridLines.forEach(f=>{
    const a=api.coord([f,base]), b=api.coord([f,base+1]);
    kids.push({type:'line', shape:{x1:a[0],y1:a[1],x2:b[0],y2:b[1]}, style:{stroke:'#f08080', lineWidth:1, lineDash:[1,3]}});
  });
  const hl=(c,st)=>{ const a=P(0,c), b=P(fMax,c); return {type:'line', shape:{x1:a[0],y1:a[1],x2:b[0],y2:b[1]}, style:st}; };
  kids.push(hl(cohThreshold,{stroke:'#2a2aff', lineWidth:1.5, lineDash:[9,5]}));
  kids.push(hl(0,{stroke:'#ff0000', lineWidth:2}));
  kids.push(hl(1,{stroke:'#ff0000', lineWidth:2}));
  kids.push({type:'polyline', shape:{points:freqs.map((f,k)=>P(f,coh[k]))}, style:{stroke:'#000', lineWidth:1.6, fill:'none'}});
  const lp=api.coord([0.028, Y(1)]);
  kids.push({type:'text', style:{text:stations[i], x:lp[0], y:lp[1], align:'left', verticalAlign:'middle', font:'bold 15px '+SERIF, fill:BLUE}});
  return {type:'group', children:kids};
}

const series=[];
series.push({type:'custom', name:'window', xAxisIndex:0, yAxisIndex:0, z:1, silent:true,
  data: windowStarts.map((t,i)=>[t, baselines[i]]), renderItem: renderWindow});
series.push({type:'custom', name:'misfit', xAxisIndex:0, yAxisIndex:0, z:2, silent:true, clip:true,
  data: baselines.map(b=>[510,b]), renderItem: renderFill});
dataWaves.forEach((w,i)=>series.push({type:'line', name:'Data waveform', xAxisIndex:0, yAxisIndex:0, z:3, silent:true,
  showSymbol:false, symbol:'none', smooth:SMOOTH, emphasis:{disabled:true},
  data: w.map(p=>[p[0], baselines[i]+p[1]]), lineStyle:{color:'#000', width:2.2}}));
synWaves.forEach((w,i)=>series.push({type:'line', name:'Synthetic waveform', xAxisIndex:0, yAxisIndex:0, z:4, silent:true,
  showSymbol:false, symbol:'none', smooth:SMOOTH, emphasis:{disabled:true},
  data: w.map(p=>[p[0], baselines[i]+p[1]]), lineStyle:{color:'#ff0000', width:2}}));
series.push({type:'custom', name:'picks', xAxisIndex:0, yAxisIndex:0, z:5, silent:true,
  data: pickTimes.map((t,i)=>[t, baselines[i]]), renderItem: renderPick});
series.push({type:'custom', name:'coherence', xAxisIndex:2, yAxisIndex:3, z:2, silent:true,
  data: stations.map((s,i)=>[0, nRows-1-i]), renderItem: renderCoh});

const tickStyle={color:'#000', width:1.5};
const labelFont={fontFamily:SERIF, fontWeight:'bold', color:BLUE};
const option={
  animation:false,
  backgroundColor:'#fff',
  title:[
    {text:'Waveform comparison between data and synthetic', left:397, top:4, padding:0, textAlign:'center',
      textStyle:{fontFamily:SERIF, fontWeight:'bold', fontSize:28, color:'#000'}},
    {text:'Multitaper Coherence Estimation', left:956, top:4, padding:0, textAlign:'center',
      textStyle:{fontFamily:SERIF, fontWeight:'bold', fontSize:28, color:'#000'}}
  ],
  grid:[
    {left:88, top:62, width:618, height:734, show:true, borderColor:'#000', borderWidth:2, backgroundColor:'transparent'},
    {left:727, top:62, width:456, height:734, show:true, borderColor:'#000', borderWidth:2, backgroundColor:'transparent'}
  ],
  xAxis:[
    {gridIndex:0, type:'value', min:510, max:596, interval:10, position:'bottom',
      axisLine:{show:false}, splitLine:{show:false}, axisTick:{length:6, lineStyle:tickStyle},
      axisLabel:{margin:15, fontSize:18, ...labelFont, formatter:v=>(v%20===0 ? v+' s' : '')},
      name:'Time', nameLocation:'middle', nameGap:45,
      nameTextStyle:{fontFamily:SANS, fontWeight:'bold', fontSize:20, color:GREEN}},
    {gridIndex:0, type:'value', min:510, max:596, interval:10, position:'top',
      axisLine:{show:false}, splitLine:{show:false}, axisTick:{length:7, lineStyle:tickStyle}, axisLabel:{show:false}},
    {gridIndex:1, type:'value', min:0, max:0.6, interval:0.1, position:'bottom',
      axisLine:{show:false}, splitLine:{show:false}, axisTick:{length:6, lineStyle:tickStyle},
      axisLabel:{margin:15, fontSize:18, ...labelFont, formatter:v=>{const r=Math.round(v*10); return r%2===0 ? (r===0?'0':String(r/10))+' Hz' : '';}},
      name:'Frequency', nameLocation:'middle', nameGap:45,
      nameTextStyle:{fontFamily:SANS, fontWeight:'bold', fontSize:21, color:GREEN}},
    {gridIndex:1, type:'value', min:0, max:0.6, interval:0.1, position:'top',
      axisLine:{show:false}, splitLine:{show:false}, axisTick:{length:6, lineStyle:tickStyle}, axisLabel:{show:false}}
  ],
  yAxis:[
    {gridIndex:0, type:'value', min:Y_MIN, max:Y_MAX, position:'left', axisLine:{show:false}, splitLine:{show:false},
      axisTick:{length:6, customValues:yTickValues, lineStyle:tickStyle},
      axisLabel:{customValues:yTickValues, margin:7, fontSize:21, ...labelFont, formatter:v=>String(v)}},
    {gridIndex:0, type:'value', min:Y_MIN, max:Y_MAX, position:'left', axisLine:{show:false}, splitLine:{show:false},
      axisTick:{length:3, customValues:minorLeft, lineStyle:tickStyle}, axisLabel:{show:false}},
    {gridIndex:0, type:'value', min:Y_MIN, max:Y_MAX, position:'right', axisLine:{show:false}, splitLine:{show:false},
      axisTick:{length:5, customValues:ticksRight, lineStyle:tickStyle}, axisLabel:{show:false}},
    {gridIndex:1, type:'value', min:0, max:nRows, show:false},
    {gridIndex:1, type:'value', min:Y_MIN, max:Y_MAX, position:'left', axisLine:{show:false}, splitLine:{show:false},
      axisTick:{length:5, customValues:yTickValues, lineStyle:tickStyle}, axisLabel:{show:false}},
    {gridIndex:1, type:'value', min:Y_MIN, max:Y_MAX, position:'left', axisLine:{show:false}, splitLine:{show:false},
      axisTick:{length:3, customValues:minorRight, lineStyle:tickStyle}, axisLabel:{show:false}}
  ],
  graphic:[
    {type:'text', x:19, y:475, rotation:Math.PI/2, scaleX:1.4,
      style:{text:'Z Component Displacement waveform', font:'bold 22px '+SANS, fill:GREEN, align:'center', verticalAlign:'middle'}},
    {type:'line', shape:{x1:155,y1:852,x2:196,y2:852}, style:{stroke:'#000', lineWidth:3}},
    {type:'text', x:207, y:852, style:{text:'Data waveform', font:'bold 20px '+SERIF, fill:'#000', align:'left', verticalAlign:'middle'}},
    {type:'line', shape:{x1:443,y1:852,x2:486,y2:852}, style:{stroke:'#ff0000', lineWidth:3}},
    {type:'text', x:496, y:852, style:{text:'Synthetic waveform', font:'bold 20px '+SERIF, fill:'#ff0000', align:'left', verticalAlign:'middle'}}
  ],
  series
};
const chart=echarts.init(document.getElementById('c'), null, {renderer:'canvas'});
chart.setOption(option);
</script>
</body></html>
